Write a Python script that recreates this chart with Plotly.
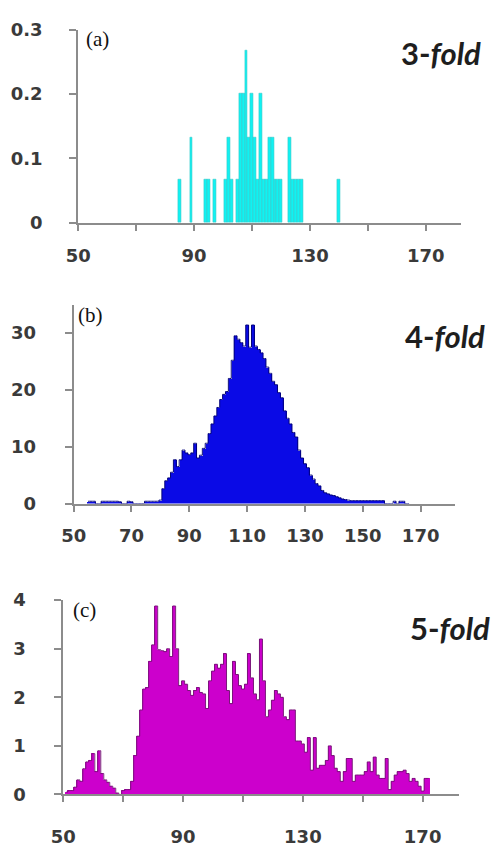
import plotly.graph_objects as go

# ---------------- data ----------------
# (a) 3-fold
bins_a = [85, 89, 94, 95, 97, 101, 102, 103, 105, 106, 107, 108, 109, 110, 111, 112,
          113, 114, 115, 116, 117, 118, 119, 120, 123, 124, 125, 126, 127, 140]
vals_a = [0.067, 0.133, 0.067, 0.067, 0.067, 0.067, 0.133, 0.067, 0.067, 0.2, 0.2, 0.267,
          0.133, 0.2, 0.133, 0.067, 0.2, 0.067, 0.067, 0.133, 0.133, 0.067, 0.067, 0.067,
          0.133, 0.067, 0.067, 0.067, 0.067, 0.067]

# (b) 4-fold
bins_b = list(range(55, 167))
vals_b = [0.4, 0.4, 0.4, 0, 0, 0.4, 0.4, 0.4, 0.4, 0.4, 0.4, 0.3, 0, 0, 0.4, 0.3,
          0, 0, 0, 0, 0.4, 0.4, 0.4, 0.4, 0.4, 0.6, 2.6, 4.0, 4.5, 5.5,
          7.7, 6.5, 7.7, 9.4, 8.9, 8.6, 8.9, 10.6, 8.0, 8.5,
          9.7, 10.6, 12.3, 14.0, 15.4, 16.9, 18.3, 19.2, 19.7, 22.0,
          25.2, 29.5, 28.9, 28.3, 27.7, 31.4, 27.5, 31.4, 27.7, 27.1,
          26.5, 25.5, 24.0, 22.9, 21.5, 20.9, 19.5, 18.6, 16.3, 15.0,
          14.0, 12.5, 11.7, 9.4, 8.0, 7.0, 6.3, 5.0, 4.3, 3.5,
          3.1, 2.3, 1.9, 1.7, 1.5, 1.4, 1.2, 1.0, 0.8, 0.7,
          0.6, 0.5, 0.5, 0.5, 0.5, 0.5, 0.5, 0.5, 0.5, 0.5,
          0.5, 0.5, 0.5, 0, 0, 0, 0.4, 0, 0.4, 0.4, 0, 0]

# (c) 5-fold
bins_c = list(range(51, 173))
vals_c = [0.05, 0.08, 0.08, 0.15, 0.3, 0.27, 0.53, 0.67, 0.7, 0.84,
          0.47, 0.9, 0.43, 0.3, 0.25, 0.17, 0.13, 0.03, 0, 0.08,
          0.1, 0.1, 0.27, 0.8, 1.2, 1.74, 2.17, 2.2, 2.74, 3.08,
          3.88, 2.98, 2.96, 2.94, 3.0, 2.84, 3.88, 3.0, 2.24, 2.34,
          2.27, 2.14, 2.04, 2.14, 2.2, 2.1, 2.07, 1.77, 2.34, 2.54,
          2.68, 2.6, 2.68, 2.9, 2.14, 1.87, 2.74, 2.47, 2.24, 2.17,
          2.27, 2.9, 2.4, 2.07, 1.95, 3.2, 2.34, 1.6, 1.74, 1.94,
          2.14, 2.07, 2.0, 1.6, 1.54, 1.74, 1.74, 1.1, 1.1, 1.04,
          0.87, 1.17, 0.5, 1.17, 0.54, 0.6, 0.6, 0.7, 1.0, 0.8,
          0.54, 0.47, 0.27, 0.47, 0.74, 0.74, 0.27, 0.4, 0.4, 0.4,
          0.47, 0.67, 0.47, 0.77, 0.4, 0.33, 0.33, 0.74, 0.1, 0.27,
          0.4, 0.47, 0.47, 0.5, 0.43, 0.27, 0.33, 0.27, 0.17, 0.07,
          0.33, 0.33]

xticks_a = [50, 70, 90, 110, 130, 150, 170]
xlabels_a = ["50", "", "90", "", "130", "", "170"]
xticks_b = [50, 70, 90, 110, 130, 150, 170]
xlabels_b = ["50", "70", "90", "110", "130", "150", "170"]
yticks_a = [0, 0.1, 0.2, 0.3]
ylabels_a = ["0", "0.1", "0.2", "0.3"]
yticks_b = [0, 10, 20, 30]
yticks_c = [0, 1, 2, 3, 4]
panel_labels = ["(a)", "(b)", "(c)"]
fold_labels = ["3", "4", "5"]

# ---------------- figure ----------------
W, H = 494, 850


def px_x(p):
    return p / W


def px_y(p):
    return 1 - p / H


fig = go.Figure()
fig.add_trace(go.Bar(x=bins_a, y=vals_a, width=1, xaxis="x", yaxis="y",
                     marker=dict(color="#10F2F2", line=dict(color="#3BC6C6", width=0.6))))
fig.add_trace(go.Bar(x=bins_b, y=vals_b, width=1, xaxis="x2", yaxis="y2",
                     marker=dict(color="#0A0AE6", line=dict(width=0))))
fig.add_trace(go.Scatter(x=bins_b, y=vals_b, mode="lines", xaxis="x2", yaxis="y2",
                         line=dict(shape="hvh", color="#00007A", width=1)))
fig.add_trace(go.Bar(x=bins_c, y=vals_c, width=1, xaxis="x3", yaxis="y3",
                     marker=dict(color="#CC00CC", line=dict(width=0))))
fig.add_trace(go.Scatter(x=bins_c, y=vals_c, mode="lines", xaxis="x3", yaxis="y3",
                         line=dict(shape="hvh", color="#7A147A", width=1)))

axis_common = dict(showgrid=False, zeroline=False, showline=True, linecolor="#8c8c8c",
                   linewidth=2, ticks="outside", tickcolor="#8c8c8c", tickwidth=2,
                   tickfont=dict(family="DejaVu Sans", size=18, color="#3a3a3a", weight="bold"),
                   fixedrange=True)

fig.update_layout(
    width=W, height=H, margin=dict(l=0, r=0, t=0, b=0),
    paper_bgcolor="white", plot_bgcolor="white", showlegend=False, bargap=0,
    hovermode=False,
    xaxis=dict(axis_common, domain=[px_x(67), px_x(459.7)], anchor="y", range=[50, 182],
               tickvals=xticks_a, ticktext=xlabels_a, ticklen=6, ticklabelstandoff=10),
    yaxis=dict(axis_common, domain=[px_y(217), px_y(19)], anchor="x", range=[0, 0.3],
               tickvals=yticks_a, ticktext=ylabels_a, ticklen=7, ticklabelstandoff=23),
    xaxis2=dict(axis_common, domain=[px_x(62.3), px_x(454.3)], anchor="y2", range=[50, 182],
                tickvals=xticks_b, ticktext=xlabels_b, ticklen=6, ticklabelstandoff=9),
    yaxis2=dict(axis_common, domain=[px_y(505), px_y(301)], anchor="x2", range=[0, 35],
                tickvals=yticks_b, ticklen=7, ticklabelstandoff=25),
    xaxis3=dict(axis_common, domain=[px_x(51.7), px_x(457.6)], anchor="y3", range=[50, 182],
                tickvals=xticks_a, ticktext=xlabels_a, ticklen=6, ticklabelstandoff=19),
    yaxis3=dict(axis_common, domain=[px_y(803.3), px_y(604.1)], anchor="x3", range=[0, 4],
                tickvals=yticks_c, ticklen=7, ticklabelstandoff=25),
)

label_pos = [(87, 29), (80, 312), (73, 614)]
fold_pos = [(482, 43), (486, 333), (491, 633)]
for lab, (lx, ly) in zip(panel_labels, label_pos):
    fig.add_annotation(text=lab, x=px_x(lx), y=px_y(ly), xref="paper", yref="paper",
                       showarrow=False, xanchor="center", yanchor="middle",
                       font=dict(family="Liberation Serif", size=21, color="#111"),
                       bgcolor="white", borderpad=0)
for n, (fx, fy) in zip(fold_labels, fold_pos):
    fig.add_annotation(text=f"<b>{n}-<i>fold</i></b>", x=px_x(fx), y=px_y(fy),
                       xref="paper", yref="paper", showarrow=False,
                       xanchor="right", yanchor="middle", borderpad=0,
                       font=dict(family="Lato", size=31, color="#1e1e1e"))

fig.write_html("out.html", config={"displayModeBar": False},
               post_script="document.body.style.margin='0';document.body.style.overflow='hidden';")
